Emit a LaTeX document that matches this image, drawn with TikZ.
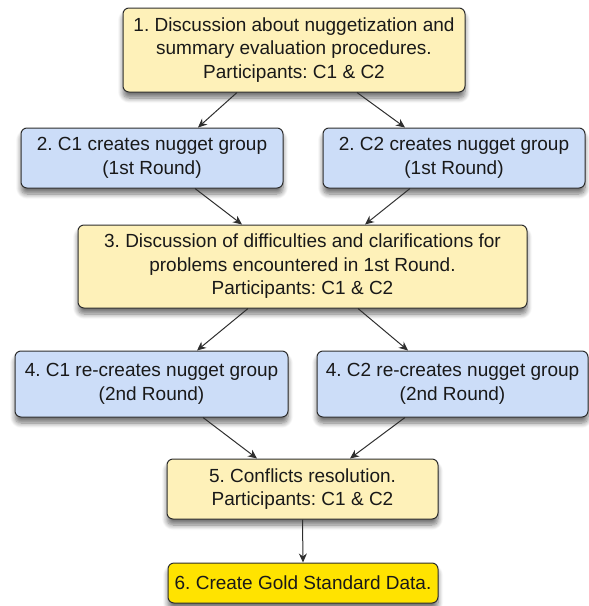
\documentclass[tikz,border=0pt]{standalone}
\usepackage{fontspec}
\setmainfont{Liberation Sans}
\frenchspacing
\usetikzlibrary{arrows.meta,shadows.blur}
\definecolor{ylw}{HTML}{FEF1B9}
\definecolor{blu}{HTML}{CCDDF8}
\definecolor{gold}{HTML}{FFE300}
\definecolor{edge}{HTML}{2E2E2E}
\tikzset{
  box/.style={draw=edge, line width=1pt, rounded corners=6pt, align=center,
    inner sep=0pt, font=\fontsize{19}{23.5}\selectfont, text=black!90,
    blur shadow={shadow xshift=0pt, shadow yshift=-6pt, shadow opacity=55, shadow blur steps=8, shadow blur radius=5pt}},
  ybox/.style={box, fill=ylw},
  bbox/.style={box, fill=blu},
  gbox/.style={box, fill=gold},
  arr/.style={draw=edge, line width=1pt, -{Stealth[length=9pt,width=8pt]}}
}
\begin{document}
\begin{tikzpicture}[x=1pt,y=-1pt]
\useasboundingbox (0,0) rectangle (589,606);
\node[ybox, minimum width=342pt, minimum height=84pt] (b1) at (294,50)
  {1. Discussion about nuggetization and\\summary evaluation procedures.\\Participants: C1 \& C2};
\node[bbox, minimum width=262pt, minimum height=60pt] (b2l) at (152,158)
  {2. C1 creates nugget group\\(1st Round)};
\node[bbox, minimum width=262pt, minimum height=60pt] (b2r) at (454,158)
  {2. C2 creates nugget group\\(1st Round)};
\node[ybox, minimum width=449pt, minimum height=83pt] (b3) at (302.5,266.5)
  {3. Discussion of difficulties and clarifications for\\problems encountered in 1st Round.\\Participants: C1 \& C2};
\node[bbox, minimum width=273pt, minimum height=66pt] (b4l) at (151.5,384)
  {4. C1 re-creates nugget group\\(2nd Round)};
\node[bbox, minimum width=271pt, minimum height=66pt] (b4r) at (452.5,384)
  {4. C2 re-creates nugget group\\(2nd Round)};
\node[ybox, minimum width=271pt, minimum height=60pt] (b5) at (302.5,489)
  {5. Conflicts resolution.\\Participants: C1 \& C2};
\node[gbox, minimum width=270pt, minimum height=40pt] (b6) at (303,583)
  {6. Create Gold Standard Data.};
\draw[arr] ([xshift=-57pt]b1.south) -- ([xshift=46pt]b2l.north);
\draw[arr] ([xshift=63pt]b1.south) -- ([xshift=-49pt]b2r.north);
\draw[arr] ([xshift=43pt]b2l.south) -- ([xshift=-60.5pt]b3.north);
\draw[arr] ([xshift=-44pt]b2r.south) -- ([xshift=62.5pt]b3.north);
\draw[arr] ([xshift=-54.5pt]b3.south) -- ([xshift=45.5pt]b4l.north);
\draw[arr] ([xshift=55.5pt]b3.south) -- ([xshift=-44.5pt]b4r.north);
\draw[arr] ([xshift=51.5pt]b4l.south) -- ([xshift=-45.5pt]b5.north);
\draw[arr] ([xshift=-47.5pt]b4r.south) -- ([xshift=47.5pt]b5.north);
\draw[arr] (b5.south) -- (b6.north);
\end{tikzpicture}
\end{document}
